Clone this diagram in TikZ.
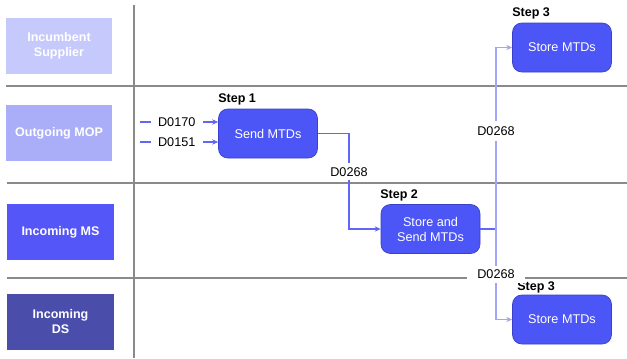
\documentclass[tikz,border=0pt]{standalone}
\usepackage{fontspec}
\setmainfont{Liberation Sans}
\usetikzlibrary{arrows.meta}
\definecolor{laneA}{HTML}{C6C9FB}
\definecolor{laneB}{HTML}{AAADF7}
\definecolor{laneC}{HTML}{5456F7}
\definecolor{laneD}{HTML}{4B4DAB}
\definecolor{proc}{HTML}{4C55F6}
\definecolor{procedge}{HTML}{3A40C8}
\definecolor{conn}{HTML}{6266F5}
\definecolor{connlight}{HTML}{A2A5F9}
\definecolor{grid}{HTML}{8A8A8A}
\tikzset{
  lane/.style={minimum width=106*0.75pt, minimum height=56*0.75pt, inner sep=0pt,
    text=white, font=\fontsize{9.4}{11.25}\selectfont\bfseries, align=center},
  procbox/.style={rounded corners=7pt, fill=proc, draw=procedge, line width=0.5pt,
    minimum width=99*0.75pt, minimum height=49*0.75pt, inner sep=0pt,
    text=white, font=\fontsize{9.5}{11.25}\selectfont, align=center},
  steplabel/.style={font=\fontsize{9.4}{11}\selectfont\bfseries, anchor=west, inner sep=0pt},
  msg/.style={font=\fontsize{9.5}{11}\selectfont, fill=white, inner xsep=2pt, inner ysep=3pt},
  gridline/.style={draw=grid, line width=0.8pt},
  flow/.style={draw=conn, line width=0.9pt, -{Stealth[length=4.5pt,width=4pt]}},
  flowlight/.style={draw=connlight, line width=0.9pt, -{Stealth[length=4.5pt,width=4pt]}}
}
\begin{document}
\begin{tikzpicture}[x=0.75pt,y=-0.75pt]
\useasboundingbox (0,0) rectangle (627,358);
% grid
\coordinate (v1) at (134,5);
\coordinate (v2) at (134,358);
\draw[gridline] (v1) -- (v2);
\coordinate (h1a) at (6,86);  \coordinate (h1b) at (627,86);
\coordinate (h2a) at (7,183); \coordinate (h2b) at (627,183);
\coordinate (h3a) at (7,278); \coordinate (h3b) at (627,278);
\draw[gridline] (h1a) -- (h1b);
\draw[gridline] (h2a) -- (h2b);
\draw[gridline] (h3a) -- (h3b);
% lanes
\node[lane, fill=laneA] (incsup) at (59,46) {Incumbent\\Supplier};
\node[lane, fill=laneB] (omop) at (59,133) {Outgoing MOP};
\node[lane, fill=laneC, minimum width=107*0.75pt] (ims) at (60.5,232) {Incoming MS};
\node[lane, fill=laneD, minimum width=107*0.75pt] (ids) at (60.5,322) {Incoming\\DS};
% process boxes
\node[procbox] (send) at (268,133.5) {Send MTDs};
\node[steplabel] (s1) at (218,99) {Step 1};
\node[procbox] (storesend) at (430.5,229) {Store and\\Send MTDs};
\node[steplabel] (s2) at (380,195) {Step 2};
\node[procbox] (storetop) at (562,47.5) {Store MTDs};
\node[steplabel] (s3a) at (512,13.5) {Step 3};
\node[procbox] (storebot) at (562,319.5) {Store MTDs};
\node[steplabel] (s3b) at (517,287.5) {Step 3};
% inputs
\coordinate (in1) at (140,122);
\coordinate (in2) at (140,142);
\draw[flow] (in1) -- node[msg, pos=0.47, inner xsep=5.5pt] (d0170) {D0170} (in1 -| send.west);
\draw[flow] (in2) -- node[msg, pos=0.47, inner xsep=5.5pt] (d0151) {D0151} (in2 -| send.west);
% flows
\coordinate (j1) at (349,133.5);
\coordinate (j2) at (349,229);
\draw[flow] (send.east) -- (j1) -- node[msg, pos=0.4] (d1) {D0268} (j2) -- (storesend.west);
\coordinate (j3) at (496,229);
\coordinate (j4) at (496,47.5);
\coordinate (j5) at (496,319.5);
\draw[draw=conn, line width=0.9pt] (storesend.east) -- (j3);
\draw[flowlight] (j3) -- node[msg, pos=0.54, inner ysep=4pt] (d2) {D0268} (j4) -- (storetop.west);
\draw[flowlight] (j3) -- node[msg, pos=0.5, inner xsep=8pt] (d3) {D0268} (j5) -- (storebot.west);
\end{tikzpicture}
\end{document}
